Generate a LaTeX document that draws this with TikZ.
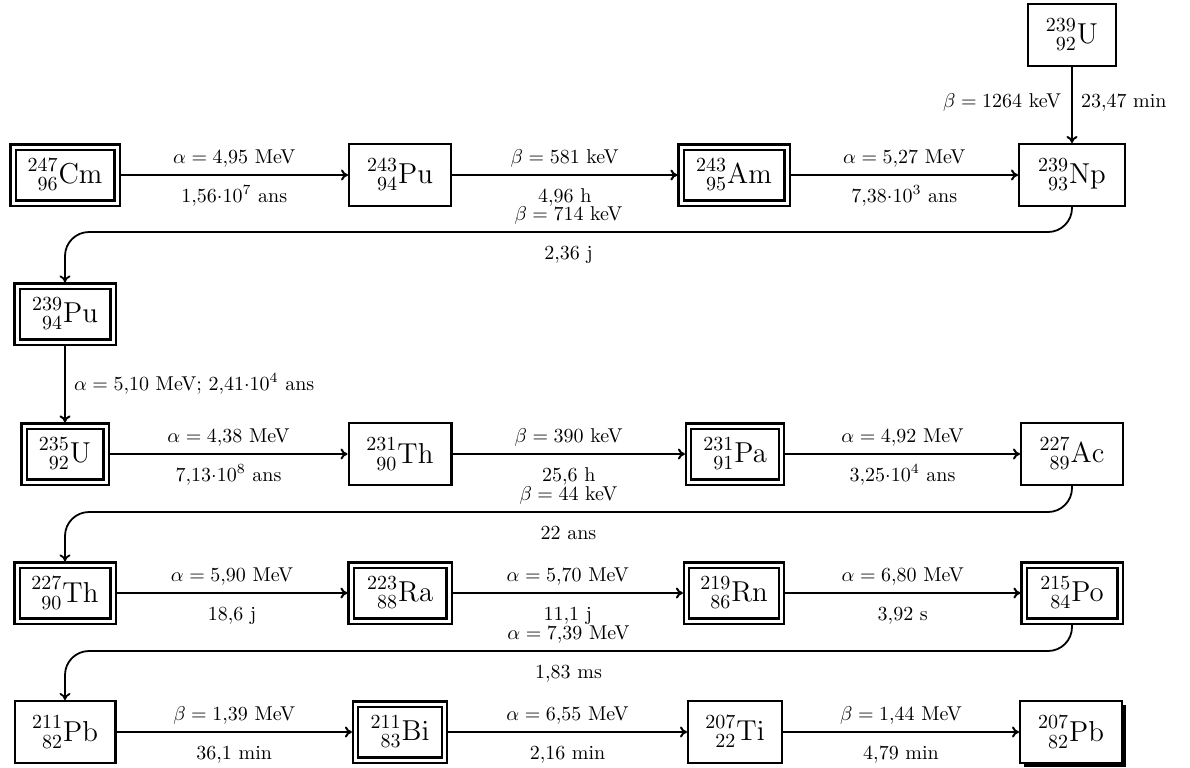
\documentclass[tikz,border=0pt]{standalone}
\usepackage{mathtools}
\usetikzlibrary{arrows.meta,shadows}
\newcommand\iso[3]{$\prescript{#1}{#2}{\mathrm{#3}}$}
\tikzset{
  isofont/.style={font=\Large},
  single/.style={draw, line width=1.2pt, fill=white, minimum height=30.8pt, inner sep=0pt, isofont},
  dbl/.style={draw, line width=1.05pt, double, double distance=1.5pt, minimum height=28pt, inner sep=0pt, outer sep=1.8pt, isofont},
  shbox/.style={single, drop shadow={shadow xshift=2pt, shadow yshift=-2pt, fill=black, opacity=1}},
  conn/.style={-{To[length=3.5pt,width=5.5pt]}, line width=1pt},
  curv/.style={conn, line width=0.9pt, rounded corners=12pt},
  labA/.style={anchor=base, yshift=6pt, inner sep=0pt},
  labB/.style={anchor=base, yshift=-13.5pt, inner sep=0pt},
}
\begin{document}
\begin{tikzpicture}[x=0.5pt,y=-0.5pt]
\useasboundingbox (0,0) rectangle (1190,767);
% nodes
\node[single, minimum width=43.8pt] (U239) at (1072,35) {\iso{239}{92}{U}};
\node[dbl, minimum width=52pt] (Cm247) at (65,175) {\iso{247}{96}{Cm}};
\node[single, minimum width=50.8pt] (Pu243) at (400,175) {\iso{243}{94}{Pu}};
\node[dbl, minimum width=53pt] (Am243) at (734,175) {\iso{243}{95}{Am}};
\node[single, minimum width=52.8pt] (Np239) at (1072,175) {\iso{239}{93}{Np}};
\node[dbl, minimum width=48pt] (Pu239) at (65,314) {\iso{239}{94}{Pu}};
\node[dbl, minimum width=41pt] (U235) at (65,454) {\iso{235}{92}{U}};
\node[single, minimum width=51.3pt] (Th231) at (400,454) {\iso{231}{90}{Th}};
\node[dbl, minimum width=46.5pt] (Pa231) at (735,454) {\iso{231}{91}{Pa}};
\node[single, minimum width=50.8pt] (Ac227) at (1072,454) {\iso{227}{89}{Ac}};
\node[dbl, minimum width=48pt] (Th227) at (65,593) {\iso{227}{90}{Th}};
\node[dbl, minimum width=49pt] (Ra223) at (400,593) {\iso{223}{88}{Ra}};
\node[dbl, minimum width=47.5pt] (Rn219) at (734,593) {\iso{219}{86}{Rn}};
\node[dbl, minimum width=48pt] (Po215) at (1072,593) {\iso{215}{84}{Po}};
\node[single, minimum width=50.3pt] (Pb211) at (65,732) {\iso{211}{82}{Pb}};
\node[dbl, minimum width=44.5pt] (Bi211) at (400,732) {\iso{211}{83}{Bi}};
\node[single, minimum width=46.8pt] (Ti207) at (735,732) {\iso{207}{22}{Ti}};
\node[shbox, minimum width=50.8pt] (Pb207) at (1071,732) {\iso{207}{82}{Pb}};
% bend points
\coordinate (k1) at (65,232);
\coordinate (k2) at (65,512);
\coordinate (k3) at (65,651);
% row 1
\draw[conn] (Cm247) -- node[midway,labA]{$\alpha=4{,}95$ MeV} node[midway,labB]{$1{,}56{\cdot}10^7$ ans} (Pu243);
\draw[conn] (Pu243) -- node[midway,labA]{$\beta=581$ keV} node[midway,labB]{$4{,}96$ h} (Am243);
\draw[conn] (Am243) -- node[midway,labA]{$\alpha=5{,}27$ MeV} node[midway,labB]{$7{,}38{\cdot}10^3$ ans} (Np239);
\draw[conn] (U239) -- node[midway, anchor=base east, xshift=-5pt, yshift=-1pt, inner sep=0pt]{$\beta=1264$ keV} node[midway, anchor=base west, xshift=4pt, yshift=-1pt, inner sep=0pt]{$23{,}47$ min} (Np239);
\draw[curv] (Np239.south) |- node[pos=0.75,labA]{$\beta=714$ keV} node[pos=0.75,labB]{$2{,}36$ j} (k1) -- (Pu239.north);
\draw[conn] (Pu239) -- node[midway, anchor=base west, xshift=4pt, yshift=-3pt, inner sep=0pt]{$\alpha=5{,}10$ MeV; $2{,}41{\cdot}10^4$ ans} (U235);
% row 3
\draw[conn] (U235) -- node[midway,labA]{$\alpha=4{,}38$ MeV} node[midway,labB]{$7{,}13{\cdot}10^8$ ans} (Th231);
\draw[conn] (Th231) -- node[midway,labA]{$\beta=390$ keV} node[midway,labB]{$25{,}6$ h} (Pa231);
\draw[conn] (Pa231) -- node[midway,labA]{$\alpha=4{,}92$ MeV} node[midway,labB]{$3{,}25{\cdot}10^4$ ans} (Ac227);
\draw[curv] (Ac227.south) |- node[pos=0.75,labA]{$\beta=44$ keV} node[pos=0.75,labB]{$22$ ans} (k2) -- (Th227.north);
% row 4
\draw[conn] (Th227) -- node[midway,labA]{$\alpha=5{,}90$ MeV} node[midway,labB]{$18{,}6$ j} (Ra223);
\draw[conn] (Ra223) -- node[midway,labA]{$\alpha=5{,}70$ MeV} node[midway,labB]{$11{,}1$ j} (Rn219);
\draw[conn] (Rn219) -- node[midway,labA]{$\alpha=6{,}80$ MeV} node[midway,labB]{$3{,}92$ s} (Po215);
\draw[curv] (Po215.south) |- node[pos=0.75,labA]{$\alpha=7{,}39$ MeV} node[pos=0.75,labB]{$1{,}83$ ms} (k3) -- (Pb211.north);
% row 5
\draw[conn] (Pb211) -- node[midway,labA]{$\beta=1{,}39$ MeV} node[midway,labB]{$36{,}1$ min} (Bi211);
\draw[conn] (Bi211) -- node[midway,labA]{$\alpha=6{,}55$ MeV} node[midway,labB]{$2{,}16$ min} (Ti207);
\draw[conn] (Ti207) -- node[midway,labA]{$\beta=1{,}44$ MeV} node[midway,labB]{$4{,}79$ min} (Pb207);
\end{tikzpicture}
\end{document}
